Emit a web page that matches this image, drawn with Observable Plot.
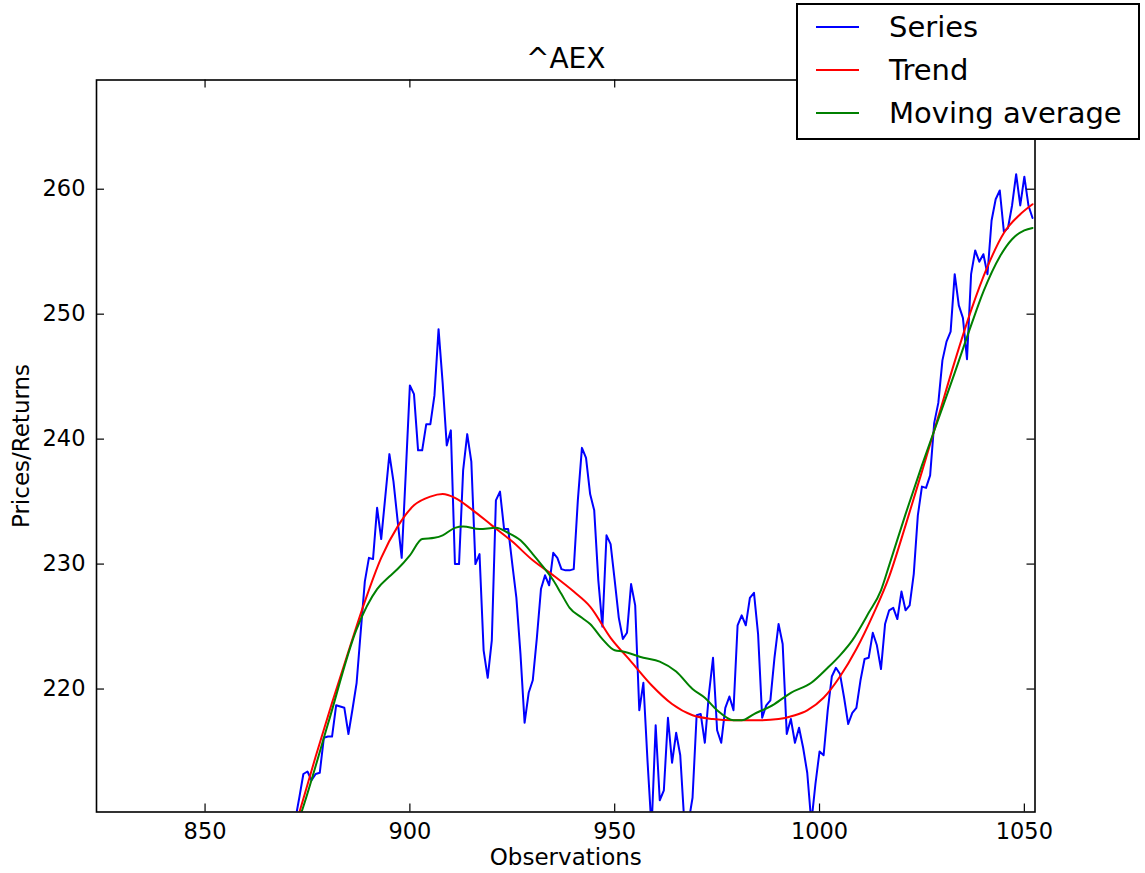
<!DOCTYPE html>
<html><head><meta charset="utf-8">
<script src="https://cdn.jsdelivr.net/npm/d3@7"></script>
<script src="https://cdn.jsdelivr.net/npm/@observablehq/plot@0.6"></script>
<style>
body{margin:0;background:#fff;}
#wrap{position:relative;width:1145px;height:873px;font-family:"DejaVu Sans",sans-serif;}
#legend{position:absolute;left:796px;top:3px;}
</style></head>
<body><div id="wrap"></div>
<script>
// ---- data ----
const title = "^AEX";
const xLabel = "Observations";
const yLabel = "Prices/Returns";
const xTicks = [850, 900, 950, 1000, 1050];
const yTicks = [220, 230, 240, 250, 260];
const seriesNames = ["Series", "Trend", "Moving average"];
const seriesColors = ["#0000ff", "#ff0000", "#008000"];

const firstObs = 872;
const seriesValues = [
  209.5, 211.3, 213.2, 213.4, 212.7, 213.2, 213.3, 216.1, 216.2, 216.2,
  218.7, 218.6, 218.5, 216.4, 218.4, 220.5, 224.6, 228.6, 230.5, 230.4,
  234.5, 232.0, 235.4, 238.8, 236.6, 233.5, 230.5, 237.3, 244.3, 243.6,
  239.1, 239.1, 241.2, 241.2, 243.5, 248.8, 244.5, 239.5, 240.7, 230.0,
  230.0, 237.5, 240.4, 238.2, 230.0, 230.8, 223.1, 220.9, 223.9, 235.1,
  235.8, 232.8, 232.8, 230.0, 227.3, 222.8, 217.3, 219.7, 220.7, 224.1,
  228.0, 229.1, 228.3, 230.9, 230.5, 229.6, 229.5, 229.5, 229.6, 235.1,
  239.3, 238.5, 235.6, 234.3, 228.7, 225.0, 232.3, 231.6, 228.7, 225.7,
  224.0, 224.5, 228.4, 226.7, 218.3, 220.5, 214.3, 208.8, 217.1, 211.1,
  211.9, 217.7, 214.1, 216.5, 214.7, 209.3, 209.3, 211.3, 217.9, 218.0,
  215.7, 219.6, 222.5, 216.7, 215.7, 218.5, 219.4, 218.3, 225.1, 225.9,
  225.1, 227.3, 227.7, 224.4, 217.7, 218.7, 219.1, 222.5, 225.2, 223.6,
  216.4, 217.6, 215.7, 216.9, 215.3, 213.3, 209.3, 212.4, 215.0, 214.7,
  218.3, 221.0, 221.7, 221.2, 219.3, 217.2, 218.1, 218.5, 220.7, 222.4,
  222.5, 224.5, 223.5, 221.6, 225.2, 226.3, 226.5, 225.6, 227.8, 226.3,
  226.7, 229.2, 233.9, 236.2, 236.1, 237.1, 241.3, 242.9, 246.3, 247.8,
  248.6, 253.2, 250.7, 249.7, 246.4, 253.2, 255.1, 254.2, 254.8, 253.2,
  257.5, 259.2, 259.9, 256.6, 256.9, 258.7, 261.2, 258.7, 261.0, 258.7,
  257.7
];

const trendX = [872, 873, 877, 881, 885, 889, 893, 897, 901, 905, 908, 911, 915, 920, 925, 930, 935, 940, 944, 949, 954, 959, 964, 969, 974, 979, 985, 990, 994, 997, 1001, 1005, 1009, 1013, 1017, 1021, 1025, 1029, 1033, 1037, 1041, 1045, 1049, 1052];
const trendY = [209.0, 210.1, 214.6, 218.9, 223.0, 227.0, 230.5, 233.0, 234.7, 235.4, 235.6, 235.3, 234.4, 233.1, 231.8, 230.3, 229.1, 227.8, 226.6, 224.1, 222.2, 220.3, 218.8, 217.9, 217.6, 217.5, 217.5, 217.6, 217.9, 218.3, 219.3, 221.0, 223.2, 225.9, 229.0, 233.1, 237.4, 241.8, 246.2, 250.3, 253.8, 256.5, 258.0, 258.8];

const maX = [873, 874, 880, 887, 892, 895, 897, 900, 903, 906, 908, 911, 913, 917, 921, 924, 927, 930, 932, 935, 937, 939, 942, 944, 947, 950, 952, 957, 961, 965, 969, 972, 975, 979, 981, 984, 989, 993, 998, 1002, 1005, 1008, 1012, 1015, 1017, 1021, 1025, 1029, 1033, 1037, 1040, 1044, 1047, 1050, 1052];
const maY = [209.6, 210.6, 217.2, 224.8, 228.0, 229.0, 229.6, 230.7, 232.0, 232.1, 232.3, 232.9, 233.0, 232.8, 232.9, 232.5, 231.9, 230.8, 230.0, 228.7, 227.6, 226.5, 225.7, 225.2, 224.0, 223.1, 223.0, 222.5, 222.2, 221.4, 220.0, 219.3, 218.3, 217.5, 217.5, 218.0, 218.8, 219.7, 220.5, 221.7, 222.7, 223.9, 226.1, 227.9, 229.9, 234.0, 237.9, 241.6, 245.3, 249.1, 251.8, 254.6, 256.0, 256.7, 256.9];

// ---- build tables ----
const series = seriesValues.map((v, i) => ({x: firstObs + i, y: v}));
const trend = trendX.map((x, i) => ({x, y: trendY[i]}));
const ma = maX.map((x, i) => ({x, y: maY[i]}));

const W = 1145, H = 873;
const mL = 96, mR = 110.5, mT = 79.5, mB = 61.5;
const frameW = W - mL - mR, frameH = H - mT - mB;
const tk = 8;

const chart = Plot.plot({
  width: W, height: H,
  marginLeft: mL, marginRight: mR, marginTop: mT, marginBottom: mB,
  style: {fontFamily: "DejaVu Sans", fontSize: "22px", background: "white", color: "black", overflow: "visible"},
  x: {domain: [823.5, 1052.6]},
  y: {domain: [210.16, 268.74]},
  marks: [
    Plot.line(series, {x: "x", y: "y", stroke: seriesColors[0], strokeWidth: 2, clip: true}),
    Plot.line(trend, {x: "x", y: "y", stroke: seriesColors[1], strokeWidth: 2, curve: "monotone-x", clip: true}),
    Plot.line(ma, {x: "x", y: "y", stroke: seriesColors[2], strokeWidth: 2, curve: "monotone-x", clip: true}),
    Plot.ruleX(xTicks, {x: d => d, insetTop: frameH - tk, stroke: "black", strokeWidth: 1.2}),
    Plot.ruleX(xTicks, {x: d => d, insetBottom: frameH - tk, stroke: "black", strokeWidth: 1.2}),
    Plot.ruleY(yTicks, {y: d => d, insetRight: frameW - tk, stroke: "black", strokeWidth: 1.2}),
    Plot.ruleY(yTicks, {y: d => d, insetLeft: frameW - tk, stroke: "black", strokeWidth: 1.2}),
    Plot.frame({stroke: "black", strokeWidth: 1.6}),
    Plot.axisX(xTicks, {tickSize: 0, tickPadding: 11, label: null, tickFormat: d => String(d), fontSize: 22.5}),
    Plot.axisY(yTicks, {tickSize: 0, tickPadding: 11, label: null, tickFormat: d => String(d), fontSize: 22.5}),
    Plot.text([title], {text: d => d, frameAnchor: "top", lineAnchor: "middle", dy: -21, fontSize: 28}),
    Plot.text([xLabel], {text: d => d, frameAnchor: "bottom", lineAnchor: "middle", dy: 46, fontSize: 23}),
    Plot.text([yLabel], {text: d => d, frameAnchor: "left", textAnchor: "middle", lineAnchor: "middle", dx: -75, rotate: -90, fontSize: 23})
  ]
});
document.getElementById("wrap").appendChild(chart);

// ---- legend ----
const lw = 344, lh = 137;
const leg = d3.select("#wrap").append("svg")
  .attr("id", "legend").attr("width", lw).attr("height", lh)
  .style("font-family", "DejaVu Sans");
leg.append("rect").attr("x", 1).attr("y", 1).attr("width", lw - 2).attr("height", lh - 2)
  .attr("fill", "white").attr("stroke", "black").attr("stroke-width", 2);
seriesNames.forEach((name, i) => {
  const yy = 24 + i * 43;
  leg.append("line").attr("x1", 20).attr("x2", 63).attr("y1", yy).attr("y2", yy)
    .attr("stroke", seriesColors[i]).attr("stroke-width", 1.8);
  leg.append("text").attr("x", 93).attr("y", yy).attr("dy", "0.36em")
    .attr("font-size", 29).attr("fill", "black").text(name);
});
</script>
</body></html>
